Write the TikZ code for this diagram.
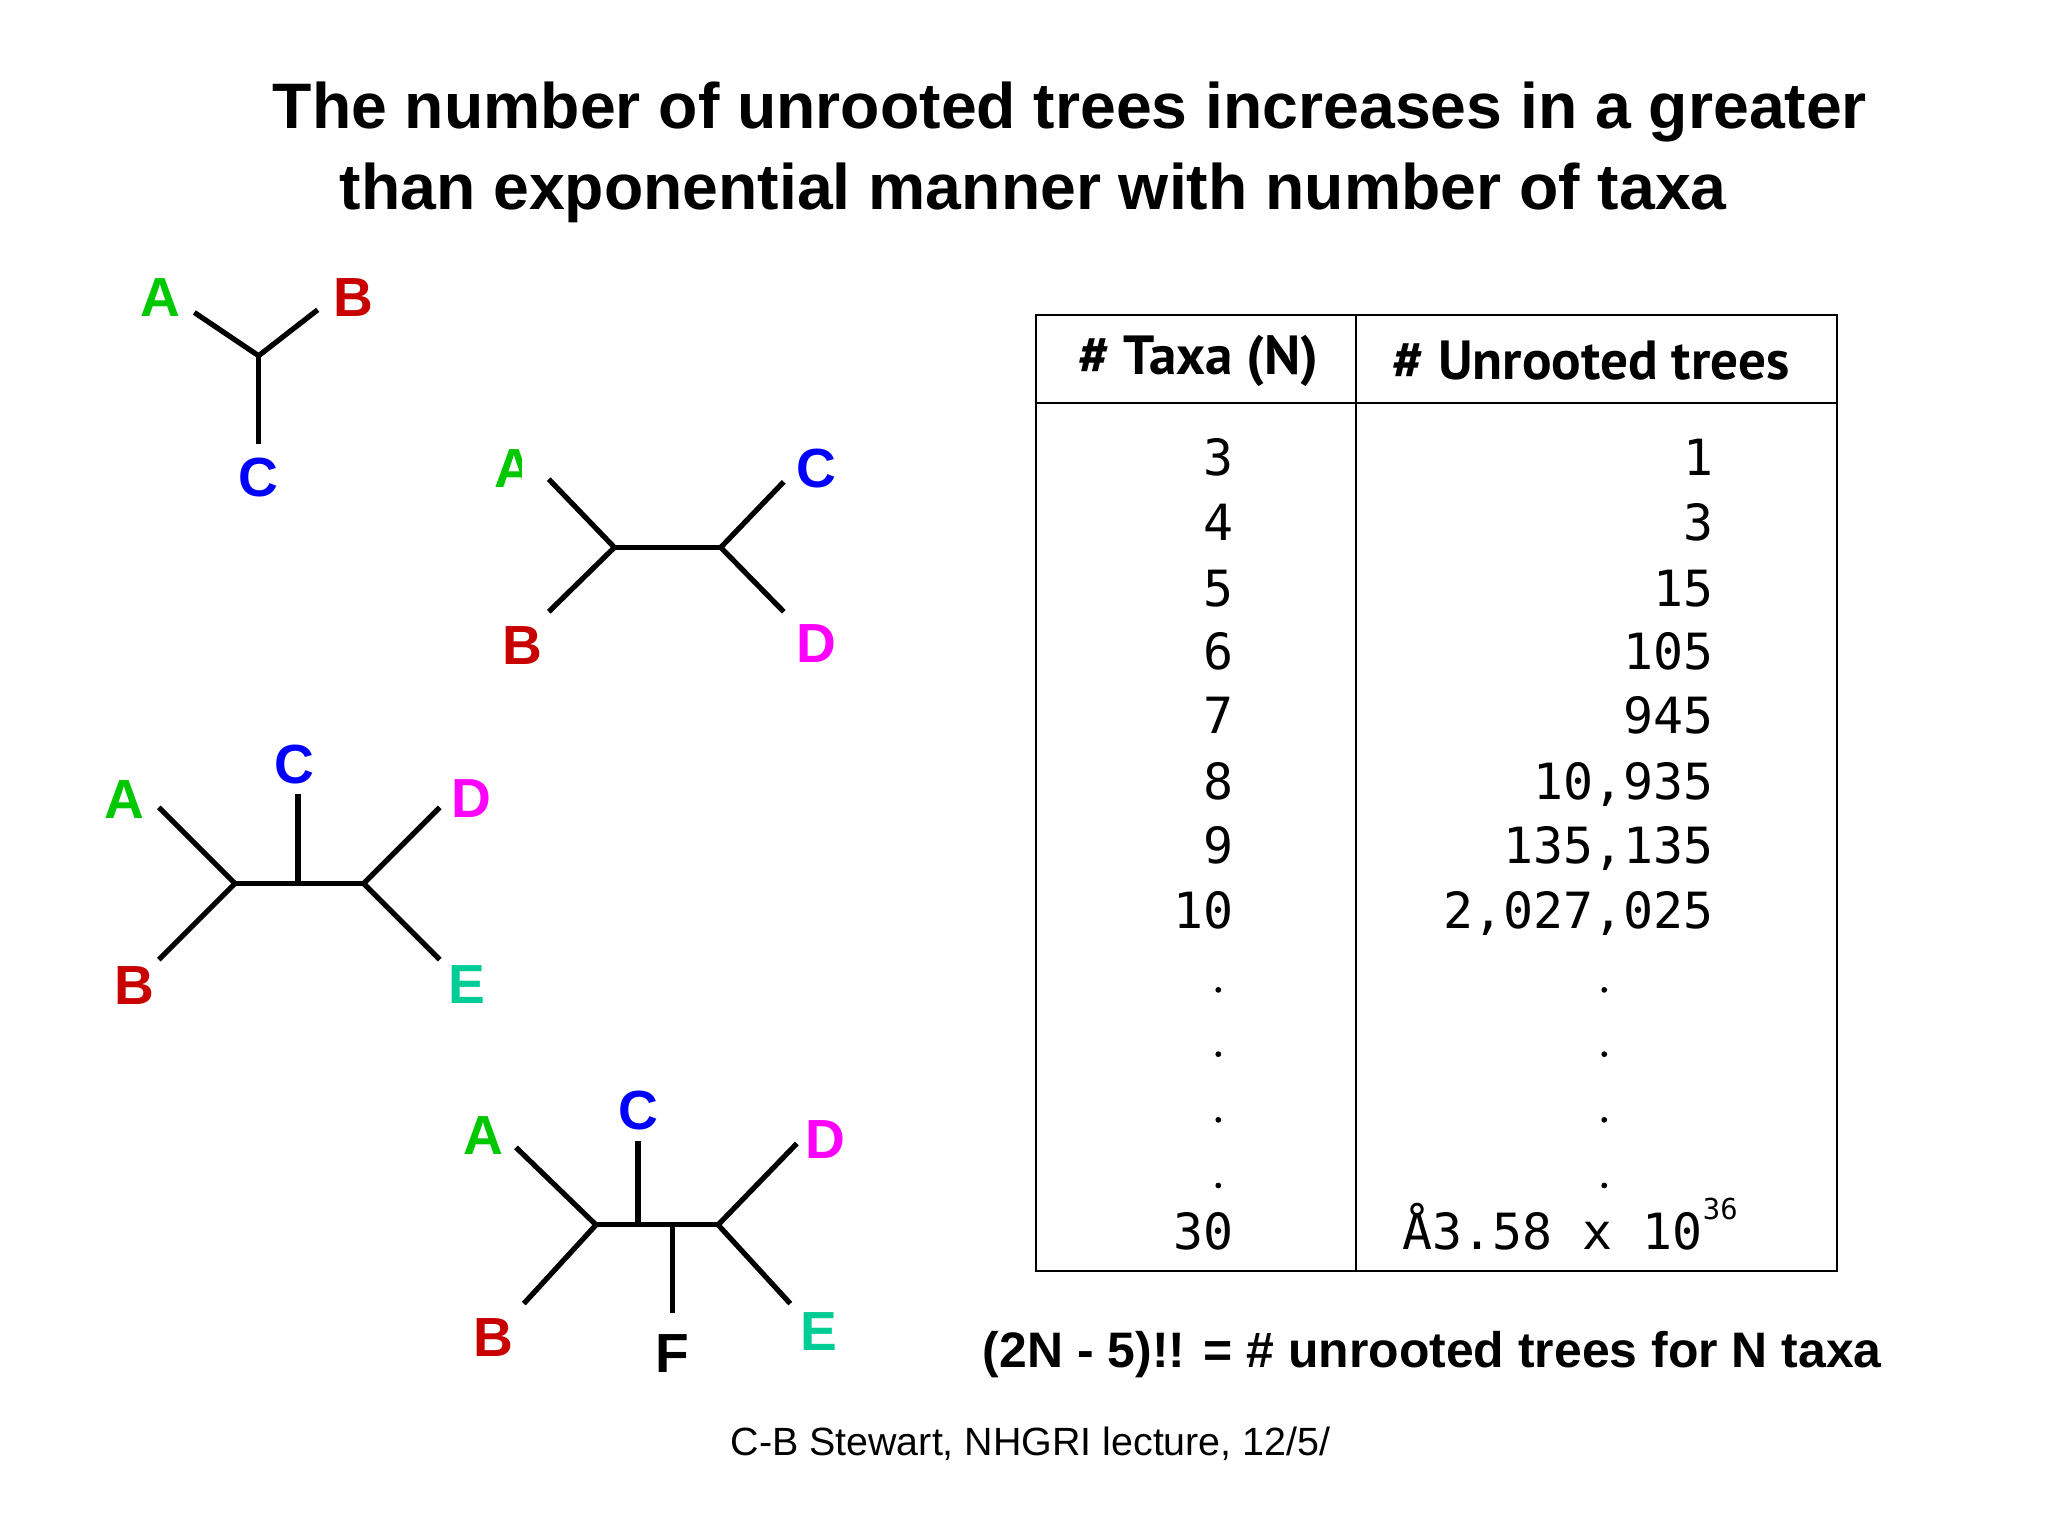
\documentclass[tikz,border=0pt]{standalone}
\usepackage{fontspec}
\setmainfont{Liberation Sans}
\newfontfamily\monof{DejaVu Sans Mono}
\newfontfamily\headf{PT Sans}
\definecolor{cgre}{RGB}{0,200,0}
\definecolor{cred}{RGB}{200,0,0}
\definecolor{cblu}{RGB}{0,0,255}
\definecolor{cmag}{RGB}{255,0,255}
\definecolor{ctea}{RGB}{0,204,150}
\begin{document}
\begin{tikzpicture}[x=0.5pt,y=-0.5pt,
  br/.style={line width=2pt,black},
  lab/.style={font=\fontsize{21}{21}\bfseries, inner sep=0pt},
  num/.style={font=\monof\fontsize{19}{19}\selectfont, inner sep=0pt, anchor=base east},
  hd/.style={font=\headf\fontsize{21}{21}\bfseries\selectfont, inner sep=0pt}]
\useasboundingbox (0,0) rectangle (1560,1170);
\fill[white] (0,0) rectangle (1560,1170);
\node[font=\fontsize{24.5}{24.5}\bfseries\selectfont] (t1) at (815,85) {The number of unrooted trees increases in a greater};
\node[font=\fontsize{24.5}{24.5}\bfseries\selectfont] (t2) at (787,147) {than exponential manner with number of taxa};
% tree 1
\coordinate (n1) at (197,271);
\coordinate (a1) at (148,238); \coordinate (b1) at (242,236); \coordinate (c1) at (197,338);
\draw[br] (a1)--(n1)--(b1); \draw[br] (n1)--(c1);
\node[lab,cgre] (A1) at (122,227) {A}; \node[lab,cred] (B1) at (269,227) {B}; \node[lab,cblu] (C1) at (197,364) {C};
% tree 2
\coordinate (l2) at (468,417); \coordinate (r2) at (549,417);
\coordinate (a2) at (418,365); \coordinate (b2) at (418,466); \coordinate (c2) at (597,367); \coordinate (d2) at (597,466);
\draw[br] (a2)--(l2)--(b2); \draw[br] (l2)--(r2); \draw[br] (c2)--(r2)--(d2);
\begin{scope}
\clip (370,330) rectangle (397,390);
\node[lab,cgre] (A2) at (392,357) {A};
\end{scope}
\node[lab,cblu] (C2) at (622,357) {C}; \node[lab,cred] (B2) at (398,492) {B}; \node[lab,cmag] (D2) at (622,490) {D};
% tree 3
\coordinate (l3) at (179,673); \coordinate (r3) at (277,673); \coordinate (m3) at (227,673); \coordinate (c3) at (227,605);
\coordinate (a3) at (121,615); \coordinate (b3) at (121,731); \coordinate (d3) at (335,615); \coordinate (e3) at (335,731);
\draw[br] (a3)--(l3)--(b3); \draw[br] (l3)--(r3); \draw[br] (d3)--(r3)--(e3); \draw[br] (m3)--(c3);
\node[lab,cgre] (A3) at (95,609) {A}; \node[lab,cblu] (C3) at (224,582) {C}; \node[lab,cmag] (D3) at (359,608) {D};
\node[lab,cred] (B3) at (102,751) {B}; \node[lab,ctea] (E3) at (356,750) {E};
% tree 4
\coordinate (l4) at (454,933); \coordinate (r4) at (547,933);
\coordinate (m4) at (486,933); \coordinate (c4) at (486,869); \coordinate (k4) at (512,933); \coordinate (f4) at (512,1000);
\coordinate (a4) at (393,874); \coordinate (b4) at (399,993); \coordinate (d4) at (607,871); \coordinate (e4) at (602,993);
\draw[br] (a4)--(l4)--(b4); \draw[br] (l4)--(r4); \draw[br] (d4)--(r4)--(e4); \draw[br] (m4)--(c4); \draw[br] (k4)--(f4);
\node[lab,cgre] (A4) at (368,865) {A}; \node[lab,cblu] (C4) at (486,846) {C}; \node[lab,cmag] (D4) at (629,868) {D};
\node[lab,cred] (B4) at (376,1019) {B}; \node[lab,black] (F4) at (512,1031) {F}; \node[lab,ctea] (E4) at (624,1014) {E};
% table
\draw[line width=0.8pt] (789,240) rectangle (1399,968);
\draw[line width=0.8pt] (789,307) -- (1399,307);
\draw[line width=0.8pt] (1033,240) -- (1033,968);
\node[hd] (h1) at (913,275) {\# Taxa (N)};
\node[hd] (h2) at (1212,275) {\# Unrooted trees};
\foreach \y/\a/\b in {351/3/1,401/4/3,451/5/15,499/6/105,548/7/945,598/8/{10,935},647/9/{135,135},696/10/{2,027,025}}{
  \node[num] at (940,\y+11) {\a};
  \node[num] at (1306,\y+11) {\b};
}
\foreach \y in {754,803,853,903}{
  \fill (928,\y) circle (2.2); \fill (1222,\y) circle (2.2);
}
\node[num] (l30) at (940,952) {30};
\node[num,anchor=base west] (r30) at (1068,952) {Å3.58 x 10\raisebox{0.6em}{\fontsize{11}{11}\selectfont 36}};
\node[font=\fontsize{19}{19}\bfseries\selectfont] (form) at (1091,1032) {(2N - 5)!! = \# unrooted trees for N taxa};
\node[font=\fontsize{15}{15}\selectfont] (foot) at (785,1100) {C-B Stewart, NHGRI lecture, 12/5/};
\end{tikzpicture}
\end{document}
